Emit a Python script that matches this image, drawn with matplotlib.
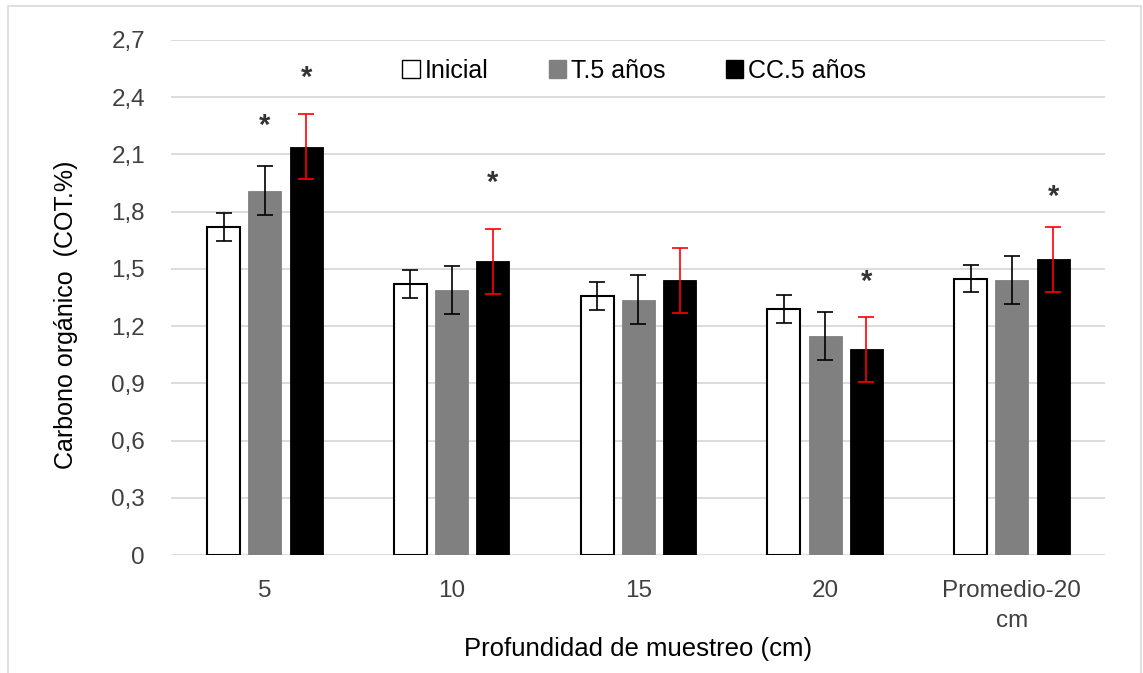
import numpy as np
import matplotlib.pyplot as plt
from matplotlib.patches import Patch, Rectangle

plt.rcParams['font.family'] = ['Liberation Sans', 'DejaVu Sans']

# soil organic carbon by sampling depth
depths = ["5", "10", "15", "20", "Promedio-20\ncm"]
series = ["Inicial", "T.5 años", "CC.5 años"]

inicial = [1.72, 1.42, 1.36, 1.29, 1.45]
t5 = [1.91, 1.39, 1.34, 1.15, 1.44]
cc5 = [2.14, 1.54, 1.44, 1.08, 1.55]

err_inicial = [0.075, 0.074, 0.074, 0.072, 0.073]
err_t5 = [0.127, 0.127, 0.126, 0.126, 0.126]
err_cc5 = [0.17, 0.17, 0.17, 0.17, 0.17]

# significance marks: (depth index, series index, height)
stars = [(0, 1, 2.28), (0, 2, 2.53), (1, 2, 1.98), (3, 2, 1.46), (4, 2, 1.91)]

yticks = [0, 0.3, 0.6, 0.9, 1.2, 1.5, 1.8, 2.1, 2.4, 2.7]
ytick_labels = ["0", "0,3", "0,6", "0,9", "1,2", "1,5", "1,8", "2,1", "2,4", "2,7"]

fig = plt.figure(figsize=(11.43, 6.73), dpi=100)
ax = fig.add_axes([0.150, 0.175, 0.817, 0.7656])

x = np.arange(len(depths))
w = 0.177
step = 0.221
fills = ["white", "#808080", "black"]
edges = ["black", "#808080", "black"]
err_colors = ["black", "black", "red"]
values = [inicial, t5, cc5]
errors = [err_inicial, err_t5, err_cc5]

for i in range(3):
    pos = x + (i - 1) * step
    ax.bar(pos, values[i], width=w, color=fills[i], edgecolor=edges[i],
           linewidth=1.5 if i == 0 else 0.6, zorder=3)
    ax.errorbar(pos, values[i], yerr=errors[i], fmt='none', ecolor=err_colors[i],
                elinewidth=1.2, capsize=6, capthick=1.2, zorder=4)

for g, s, h in stars:
    ax.text(x[g] + (s - 1) * step, h - 0.03, "*", ha='center', va='center',
            fontsize=21, fontweight='bold', color='#333333')

ax.set_xlim(-0.5, len(depths) - 0.5)
ax.set_ylim(0, 2.7)
ax.set_yticks(yticks)
ax.set_yticklabels(ytick_labels)
ax.set_xticks(x)
ax.set_xticklabels(depths)
ax.tick_params(axis='both', length=0, labelsize=17.5, colors='#404040')
ax.tick_params(axis='y', pad=19)
ax.tick_params(axis='x', pad=18)
for lab in ax.get_xticklabels():
    lab.set_linespacing(1.45)
ax.grid(axis='y', color='#d9d9d9', linewidth=1.3, zorder=0)
ax.set_axisbelow(True)
for sp in ax.spines.values():
    sp.set_visible(False)

ax.set_ylabel("Carbono orgánico  (COT.%)", fontsize=18)
ax.yaxis.set_label_coords(-0.100, 0.466)
ax.set_xlabel("Profundidad de muestreo (cm)", fontsize=18.5, labelpad=4)

handles = [Patch(facecolor=fills[i], edgecolor='black' if i != 1 else '#808080',
                 linewidth=1.0) for i in range(3)]
fig.legend(handles, series, loc='center', bbox_to_anchor=(0.555, 0.895), ncol=3,
           frameon=False, fontsize=18, handlelength=0.7, handleheight=0.7,
           handletextpad=0.2, columnspacing=2.4)

# light frame around the whole chart
fig.patches.append(Rectangle((8 / 1143, -0.01), 1133 / 1143, 1 - 6 / 673 + 0.01,
                             transform=fig.transFigure, fill=False,
                             edgecolor='#d9d9d9', linewidth=1.2))

fig.savefig("out.png", dpi=100)
